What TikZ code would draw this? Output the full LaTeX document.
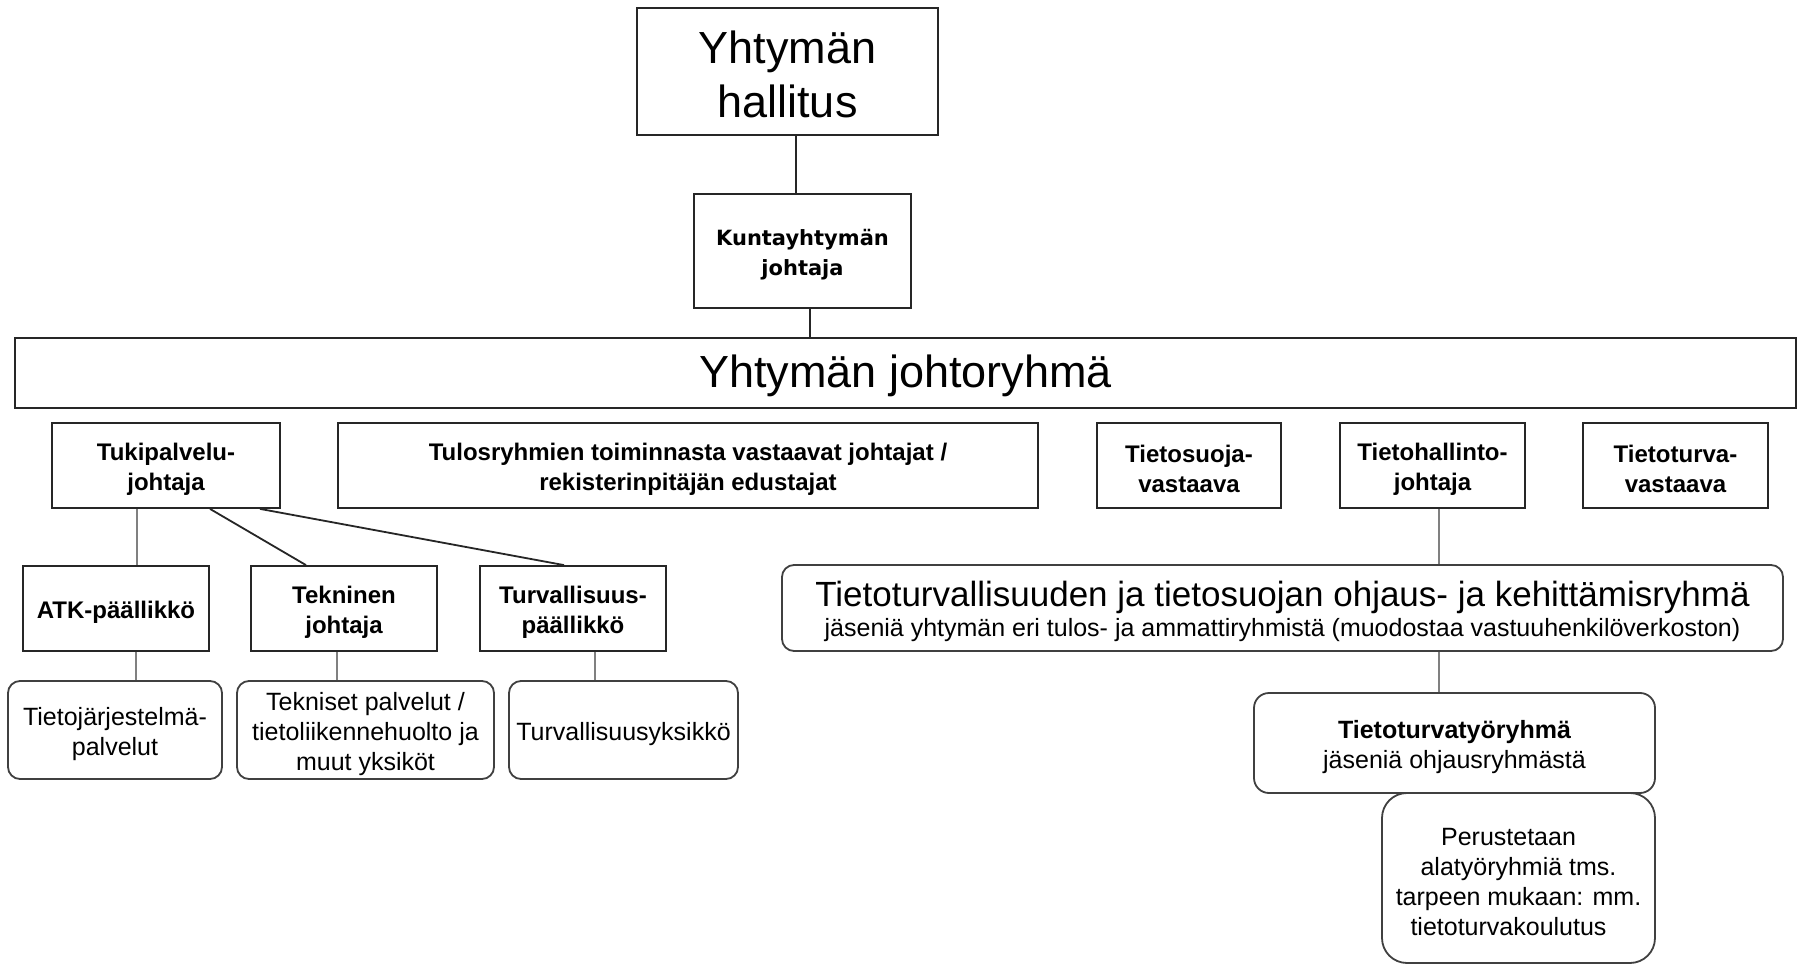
\documentclass[tikz,border=0pt]{standalone}
\usepackage{fontspec}
\setmainfont{Liberation Sans}
\newfontfamily\dejavu{DejaVu Sans}
% strut that lowers node text by about 4pt
\newcommand\tdn{\rule{0pt}{\dimexpr\fontcharht\font`\l+8pt\relax}}
\tikzset{
  sq/.style={draw=black!85, line width=1.8pt, fill=white, inner sep=0pt, align=center,
             font=\bfseries\fontsize{24}{30}\selectfont},
  rd/.style={draw=black!75, line width=1.8pt, fill=white, rounded corners=12pt, inner sep=0pt,
             align=center, font=\fontsize{25}{30}\selectfont},
  dk/.style={draw=black!85, line width=1.8pt},
  gy/.style={draw=black!50, line width=1.8pt},
}
\begin{document}
\begin{tikzpicture}[x=1pt, y=-1pt]
\useasboundingbox[fill=white] (0,0) rectangle (1797,965);

% top level
\node[sq, minimum width=301pt, minimum height=127pt, font=\fontsize{45}{54}\selectfont] (hall) at (787.5,71.5) {\tdn Yhtymän\\hallitus};
\node[sq, minimum width=217pt, minimum height=114pt, font=\dejavu\bfseries\fontsize{21}{30}\selectfont] (kunta) at (802.5,251) {\tdn Kuntayhtymän\\johtaja};
\node[sq, minimum width=1781pt, minimum height=70pt, font=\fontsize{45}{54}\selectfont] (jr) at (905.5,373) {\tdn Yhtymän johtoryhmä};

% second row
\node[sq, minimum width=228pt, minimum height=85pt] (tuki) at (166,465.5) {\tdn Tukipalvelu-\\johtaja};
\node[sq, minimum width=700pt, minimum height=85pt] (tulos) at (688,465.5) {\tdn Tulosryhmien toiminnasta vastaavat johtajat /\\rekisterinpitäjän edustajat};
\node[sq, minimum width=184pt, minimum height=85pt] (tsuoja) at (1189,465.5) {\tdn Tietosuoja-\\vastaava};
\node[sq, minimum width=185pt, minimum height=85pt] (thall) at (1432.5,465.5) {\tdn Tietohallinto-\\johtaja};
\node[sq, minimum width=185pt, minimum height=85pt] (tturva) at (1675.5,465.5) {\tdn Tietoturva-\\vastaava};

% third row left
\node[sq, minimum width=186pt, minimum height=85pt] (atk) at (116,608.5) {\tdn ATK-päällikkö};
\node[sq, minimum width=186pt, minimum height=85pt] (tekn) at (344,608.5) {\tdn Tekninen\\johtaja};
\node[sq, minimum width=186pt, minimum height=85pt] (turv) at (573,608.5) {\tdn Turvallisuus-\\päällikkö};

% fourth row left
\node[rd, minimum width=214pt, minimum height=98pt] (tjp) at (115,730) {\tdn Tietojärjestelmä-\\palvelut};
\node[rd, minimum width=257pt, minimum height=98pt] (tpal) at (365.5,730) {\tdn Tekniset palvelut /\\tietoliikennehuolto ja\\muut yksiköt};
\node[rd, minimum width=229pt, minimum height=98pt] (tyks) at (623.5,730) {\tdn Turvallisuusyksikkö};

% right branch
\node[rd, minimum width=1001pt, minimum height=86pt] (ohj) at (1282.5,608)
  {\fontsize{35}{42}\selectfont\tdn Tietoturvallisuuden ja tietosuojan ohjaus- ja kehittämisryhmä\\
   \fontsize{25}{32}\selectfont jäseniä yhtymän eri tulos- ja ammattiryhmistä (muodostaa vastuuhenkilöverkoston)};
\node[rd, rounded corners=15pt, minimum width=401pt, minimum height=100pt] (ttr) at (1454.5,743)
  {\tdn\textbf{Tietoturvatyöryhmä}\\jäseniä ohjausryhmästä};
\node[rd, rounded corners=25pt, minimum width=273pt, minimum height=170pt] (per) at (1518.5,878)
  {\tdn Perustetaan\hspace*{20pt}\\alatyöryhmiä tms.\hspace*{20pt}\\tarpeen mukaan: mm.\hspace*{20pt}\\tietoturvakoulutus\hspace*{20pt}};

% connectors
\draw[dk] ([xshift=8.5pt]hall.south) -- ([xshift=8.5pt]hall.south |- kunta.north);
\draw[dk] ([xshift=7.5pt]kunta.south) -- ([xshift=7.5pt]kunta.south |- jr.north);
\draw[gy] ([xshift=-29pt]tuki.south) -- ([xshift=-29pt]tuki.south |- atk.north);
\draw[dk] ([xshift=44pt]tuki.south) -- ([xshift=-38pt]tekn.north);
\draw[dk] ([xshift=94pt]tuki.south) -- ([xshift=-9pt]turv.north);
\draw[gy] ([xshift=20pt]atk.south) -- ([xshift=20pt]atk.south |- tjp.north);
\draw[gy] ([xshift=-7pt]tekn.south) -- ([xshift=-7pt]tekn.south |- tpal.north);
\draw[gy] ([xshift=22pt]turv.south) -- ([xshift=22pt]turv.south |- tyks.north);
\draw[gy] ([xshift=6.5pt]thall.south) -- ([xshift=6.5pt]thall.south |- ohj.north);
\draw[gy] ([xshift=6.5pt]thall.south |- ohj.south) -- ([xshift=6.5pt]thall.south |- ttr.north);
\end{tikzpicture}
\end{document}
